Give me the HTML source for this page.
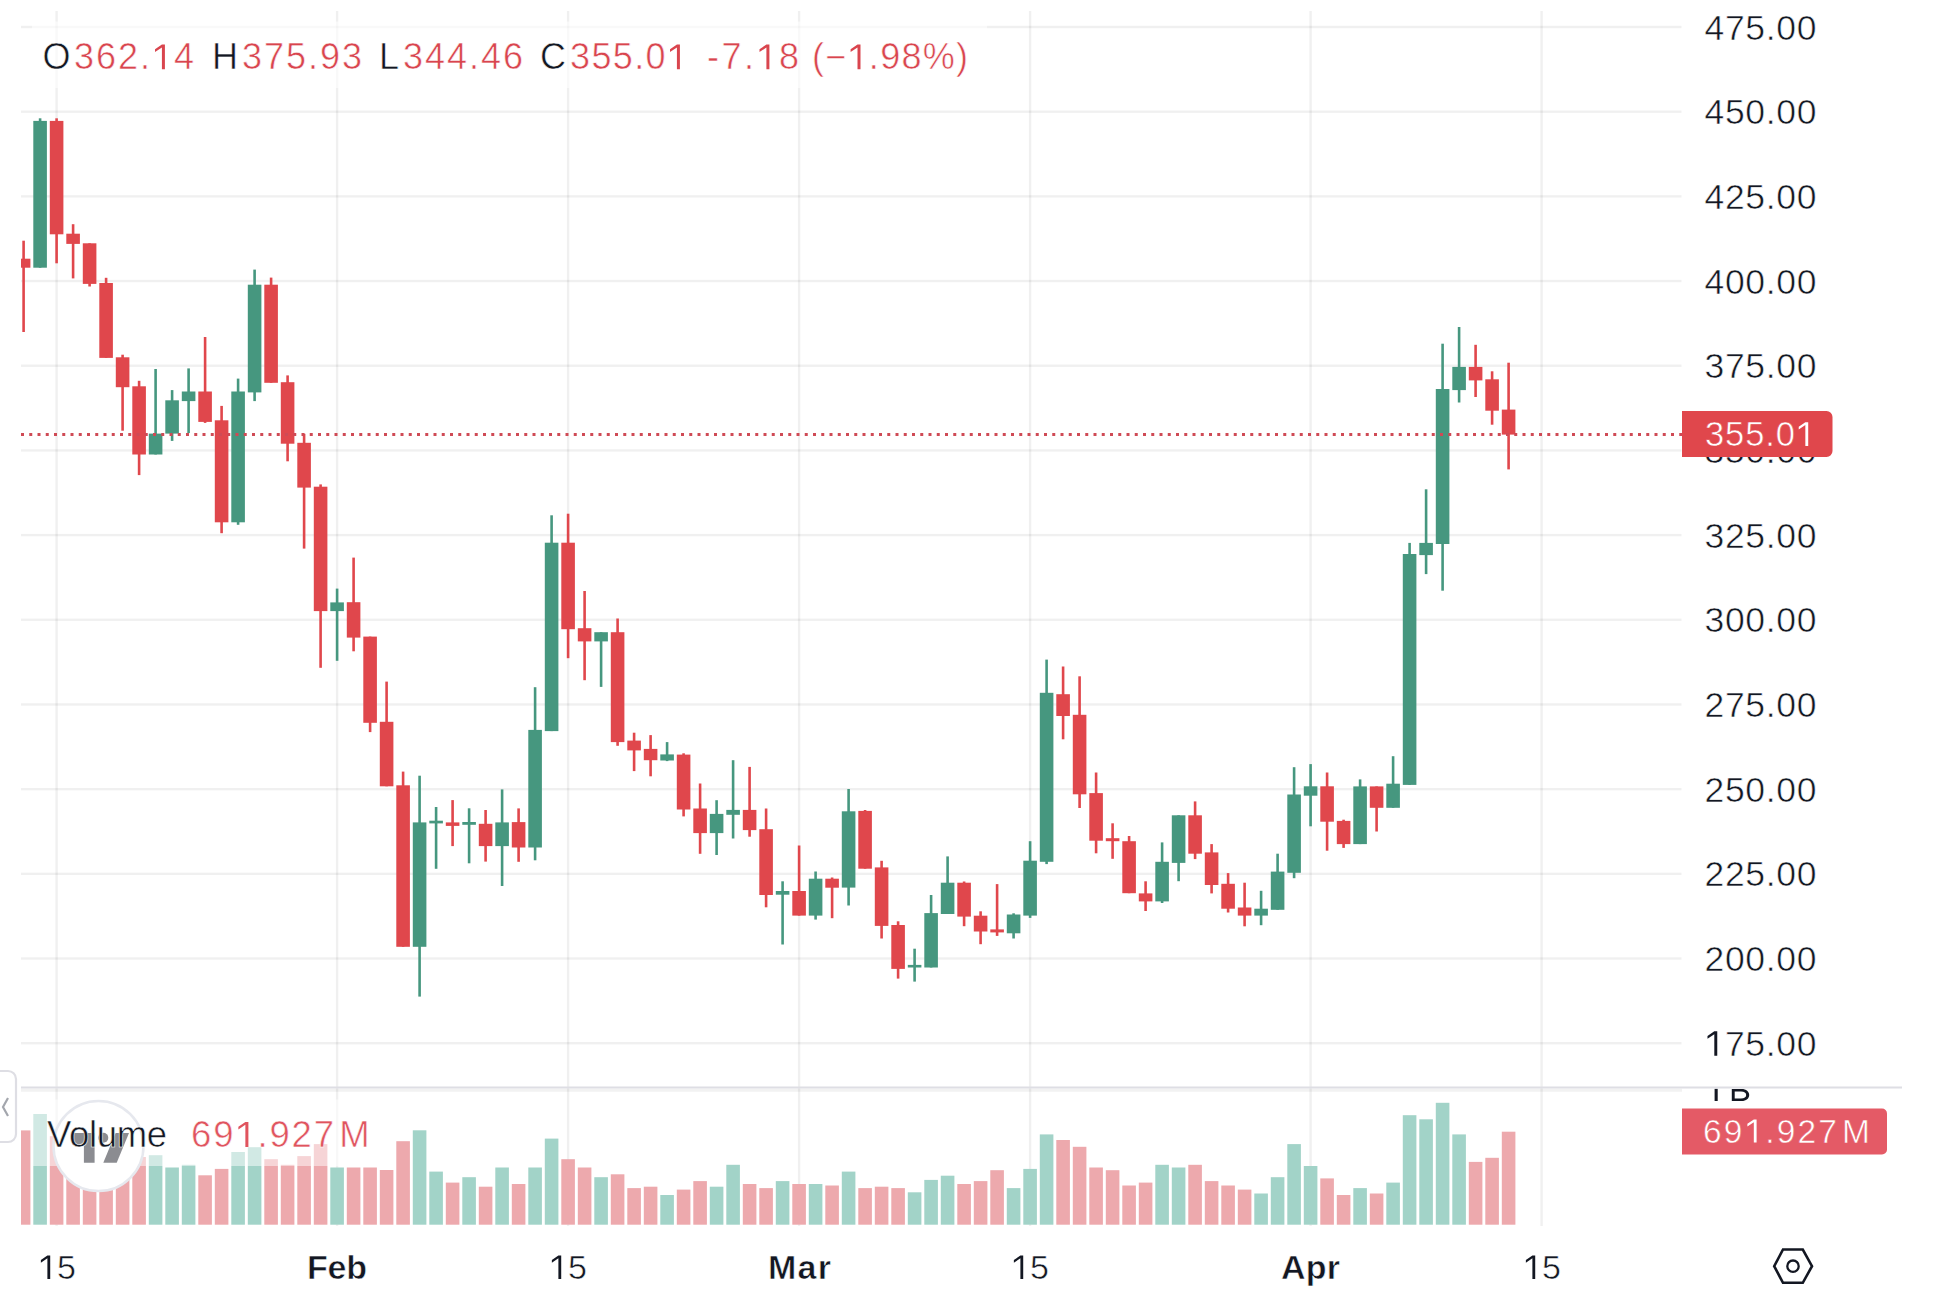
<!DOCTYPE html>
<html><head><meta charset="utf-8">
<style>
html,body{margin:0;padding:0;background:#fff;width:1936px;height:1310px;overflow:hidden}
svg{display:block;font-family:"Liberation Sans",sans-serif}
text{stroke:#ffffff;stroke-width:0.55px;paint-order:normal}
.wt{stroke:#e0474c}
.wv{stroke:#e45a66}
.one{fill-opacity:0;stroke-opacity:0}
</style></head><body>
<svg width="1936" height="1310" viewBox="0 0 1936 1310">
<rect width="1936" height="1310" fill="#ffffff"/>
<rect x="21" y="25.8" width="1660.5" height="2.4" fill="#000000" fill-opacity="0.058"/>
<rect x="21" y="110.48" width="1660.5" height="2.4" fill="#000000" fill-opacity="0.058"/>
<rect x="21" y="195.17" width="1660.5" height="2.4" fill="#000000" fill-opacity="0.058"/>
<rect x="21" y="279.85" width="1660.5" height="2.4" fill="#000000" fill-opacity="0.058"/>
<rect x="21" y="364.53" width="1660.5" height="2.4" fill="#000000" fill-opacity="0.058"/>
<rect x="21" y="449.22" width="1660.5" height="2.4" fill="#000000" fill-opacity="0.058"/>
<rect x="21" y="533.9" width="1660.5" height="2.4" fill="#000000" fill-opacity="0.058"/>
<rect x="21" y="618.58" width="1660.5" height="2.4" fill="#000000" fill-opacity="0.058"/>
<rect x="21" y="703.27" width="1660.5" height="2.4" fill="#000000" fill-opacity="0.058"/>
<rect x="21" y="787.95" width="1660.5" height="2.4" fill="#000000" fill-opacity="0.058"/>
<rect x="21" y="872.63" width="1660.5" height="2.4" fill="#000000" fill-opacity="0.058"/>
<rect x="21" y="957.32" width="1660.5" height="2.4" fill="#000000" fill-opacity="0.058"/>
<rect x="21" y="1042" width="1660.5" height="2.4" fill="#000000" fill-opacity="0.058"/>
<rect x="55.4" y="11" width="2.4" height="1215" fill="#000000" fill-opacity="0.058"/>
<rect x="335.9" y="11" width="2.4" height="1215" fill="#000000" fill-opacity="0.058"/>
<rect x="566.9" y="11" width="2.4" height="1215" fill="#000000" fill-opacity="0.058"/>
<rect x="797.9" y="11" width="2.4" height="1215" fill="#000000" fill-opacity="0.058"/>
<rect x="1028.9" y="11" width="2.4" height="1215" fill="#000000" fill-opacity="0.058"/>
<rect x="1309.4" y="11" width="2.4" height="1215" fill="#000000" fill-opacity="0.058"/>
<rect x="1540.4" y="11" width="2.4" height="1215" fill="#000000" fill-opacity="0.058"/>
<rect x="21" y="1130.4" width="9.4" height="94.3" fill="#eda9ad"/>
<rect x="33.3" y="1114" width="13.6" height="110.7" fill="#a2d3c8"/>
<rect x="49.8" y="1136.2" width="13.6" height="88.5" fill="#eda9ad"/>
<rect x="66.3" y="1172" width="13.6" height="52.7" fill="#eda9ad"/>
<rect x="82.8" y="1176" width="13.6" height="48.7" fill="#eda9ad"/>
<rect x="99.3" y="1170" width="13.6" height="54.7" fill="#eda9ad"/>
<rect x="115.8" y="1168" width="13.6" height="56.7" fill="#eda9ad"/>
<rect x="132.3" y="1157" width="13.6" height="67.7" fill="#eda9ad"/>
<rect x="148.8" y="1155.2" width="13.6" height="69.5" fill="#a2d3c8"/>
<rect x="165.3" y="1167.5" width="13.6" height="57.2" fill="#a2d3c8"/>
<rect x="181.8" y="1164.8" width="13.6" height="59.9" fill="#a2d3c8"/>
<rect x="198.3" y="1175.3" width="13.6" height="49.4" fill="#eda9ad"/>
<rect x="214.8" y="1168.9" width="13.6" height="55.8" fill="#eda9ad"/>
<rect x="231.3" y="1152" width="13.6" height="72.7" fill="#a2d3c8"/>
<rect x="247.8" y="1147.2" width="13.6" height="77.5" fill="#a2d3c8"/>
<rect x="264.3" y="1159.2" width="13.6" height="65.5" fill="#eda9ad"/>
<rect x="280.8" y="1164.8" width="13.6" height="59.9" fill="#eda9ad"/>
<rect x="297.3" y="1156.1" width="13.6" height="68.6" fill="#eda9ad"/>
<rect x="313.8" y="1144.1" width="13.6" height="80.6" fill="#eda9ad"/>
<rect x="330.3" y="1167.5" width="13.6" height="57.2" fill="#a2d3c8"/>
<rect x="346.8" y="1167.5" width="13.6" height="57.2" fill="#eda9ad"/>
<rect x="363.3" y="1167.5" width="13.6" height="57.2" fill="#eda9ad"/>
<rect x="379.8" y="1170" width="13.6" height="54.7" fill="#eda9ad"/>
<rect x="396.3" y="1141.2" width="13.6" height="83.5" fill="#eda9ad"/>
<rect x="412.8" y="1130.3" width="13.6" height="94.4" fill="#a2d3c8"/>
<rect x="429.3" y="1171.6" width="13.6" height="53.1" fill="#a2d3c8"/>
<rect x="445.8" y="1182.6" width="13.6" height="42.1" fill="#eda9ad"/>
<rect x="462.3" y="1177.2" width="13.6" height="47.5" fill="#a2d3c8"/>
<rect x="478.8" y="1186.7" width="13.6" height="38" fill="#eda9ad"/>
<rect x="495.3" y="1167.5" width="13.6" height="57.2" fill="#a2d3c8"/>
<rect x="511.8" y="1184" width="13.6" height="40.7" fill="#eda9ad"/>
<rect x="528.3" y="1167.5" width="13.6" height="57.2" fill="#a2d3c8"/>
<rect x="544.8" y="1138.6" width="13.6" height="86.1" fill="#a2d3c8"/>
<rect x="561.3" y="1159.2" width="13.6" height="65.5" fill="#eda9ad"/>
<rect x="577.8" y="1167.5" width="13.6" height="57.2" fill="#eda9ad"/>
<rect x="594.3" y="1177.2" width="13.6" height="47.5" fill="#a2d3c8"/>
<rect x="610.8" y="1174.3" width="13.6" height="50.4" fill="#eda9ad"/>
<rect x="627.3" y="1188.1" width="13.6" height="36.6" fill="#eda9ad"/>
<rect x="643.8" y="1186.7" width="13.6" height="38" fill="#eda9ad"/>
<rect x="660.3" y="1195" width="13.6" height="29.7" fill="#a2d3c8"/>
<rect x="676.8" y="1189.6" width="13.6" height="35.1" fill="#eda9ad"/>
<rect x="693.3" y="1181.1" width="13.6" height="43.6" fill="#eda9ad"/>
<rect x="709.8" y="1186.7" width="13.6" height="38" fill="#a2d3c8"/>
<rect x="726.3" y="1164.8" width="13.6" height="59.9" fill="#a2d3c8"/>
<rect x="742.8" y="1184" width="13.6" height="40.7" fill="#eda9ad"/>
<rect x="759.3" y="1188.1" width="13.6" height="36.6" fill="#eda9ad"/>
<rect x="775.8" y="1181.1" width="13.6" height="43.6" fill="#a2d3c8"/>
<rect x="792.3" y="1184" width="13.6" height="40.7" fill="#eda9ad"/>
<rect x="808.8" y="1184" width="13.6" height="40.7" fill="#a2d3c8"/>
<rect x="825.3" y="1185.5" width="13.6" height="39.2" fill="#eda9ad"/>
<rect x="841.8" y="1171.6" width="13.6" height="53.1" fill="#a2d3c8"/>
<rect x="858.3" y="1188.1" width="13.6" height="36.6" fill="#eda9ad"/>
<rect x="874.8" y="1186.7" width="13.6" height="38" fill="#eda9ad"/>
<rect x="891.3" y="1188.1" width="13.6" height="36.6" fill="#eda9ad"/>
<rect x="907.8" y="1192.3" width="13.6" height="32.4" fill="#a2d3c8"/>
<rect x="924.3" y="1179.9" width="13.6" height="44.8" fill="#a2d3c8"/>
<rect x="940.8" y="1175.7" width="13.6" height="49" fill="#a2d3c8"/>
<rect x="957.3" y="1184" width="13.6" height="40.7" fill="#eda9ad"/>
<rect x="973.8" y="1181.1" width="13.6" height="43.6" fill="#eda9ad"/>
<rect x="990.3" y="1170.2" width="13.6" height="54.5" fill="#eda9ad"/>
<rect x="1006.8" y="1188.1" width="13.6" height="36.6" fill="#a2d3c8"/>
<rect x="1023.3" y="1168.9" width="13.6" height="55.8" fill="#a2d3c8"/>
<rect x="1039.8" y="1134.4" width="13.6" height="90.3" fill="#a2d3c8"/>
<rect x="1056.3" y="1140" width="13.6" height="84.7" fill="#eda9ad"/>
<rect x="1072.8" y="1146.8" width="13.6" height="77.9" fill="#eda9ad"/>
<rect x="1089.3" y="1167.5" width="13.6" height="57.2" fill="#eda9ad"/>
<rect x="1105.8" y="1170.2" width="13.6" height="54.5" fill="#eda9ad"/>
<rect x="1122.3" y="1185.5" width="13.6" height="39.2" fill="#eda9ad"/>
<rect x="1138.8" y="1182.6" width="13.6" height="42.1" fill="#eda9ad"/>
<rect x="1155.3" y="1164.8" width="13.6" height="59.9" fill="#a2d3c8"/>
<rect x="1171.8" y="1167.5" width="13.6" height="57.2" fill="#a2d3c8"/>
<rect x="1188.3" y="1164.8" width="13.6" height="59.9" fill="#eda9ad"/>
<rect x="1204.8" y="1181.1" width="13.6" height="43.6" fill="#eda9ad"/>
<rect x="1221.3" y="1185.5" width="13.6" height="39.2" fill="#eda9ad"/>
<rect x="1237.8" y="1189.6" width="13.6" height="35.1" fill="#eda9ad"/>
<rect x="1254.3" y="1193.5" width="13.6" height="31.2" fill="#a2d3c8"/>
<rect x="1270.8" y="1177.2" width="13.6" height="47.5" fill="#a2d3c8"/>
<rect x="1287.3" y="1144.1" width="13.6" height="80.6" fill="#a2d3c8"/>
<rect x="1303.8" y="1166" width="13.6" height="58.7" fill="#a2d3c8"/>
<rect x="1320.3" y="1178.4" width="13.6" height="46.3" fill="#eda9ad"/>
<rect x="1336.8" y="1195" width="13.6" height="29.7" fill="#eda9ad"/>
<rect x="1353.3" y="1188.1" width="13.6" height="36.6" fill="#a2d3c8"/>
<rect x="1369.8" y="1193.5" width="13.6" height="31.2" fill="#eda9ad"/>
<rect x="1386.3" y="1182.6" width="13.6" height="42.1" fill="#a2d3c8"/>
<rect x="1402.8" y="1115.2" width="13.6" height="109.5" fill="#a2d3c8"/>
<rect x="1419.3" y="1119.3" width="13.6" height="105.4" fill="#a2d3c8"/>
<rect x="1435.8" y="1102.8" width="13.6" height="121.9" fill="#a2d3c8"/>
<rect x="1452.3" y="1134.4" width="13.6" height="90.3" fill="#a2d3c8"/>
<rect x="1468.8" y="1161.9" width="13.6" height="62.8" fill="#eda9ad"/>
<rect x="1485.3" y="1157.8" width="13.6" height="66.9" fill="#eda9ad"/>
<rect x="1501.8" y="1131.7" width="13.6" height="93" fill="#eda9ad"/>
<rect x="22.3" y="240.7" width="2.6" height="91.3" fill="#e0474c"/>
<rect x="21" y="258.7" width="9.4" height="9" fill="#e0474c"/>
<rect x="38.8" y="118.3" width="2.6" height="149.4" fill="#46977f"/>
<rect x="33.3" y="120.9" width="13.6" height="146.8" fill="#46977f"/>
<rect x="55.3" y="118.3" width="2.6" height="145" fill="#e0474c"/>
<rect x="49.8" y="120.9" width="13.6" height="113.4" fill="#e0474c"/>
<rect x="71.8" y="224.2" width="2.6" height="54.2" fill="#e0474c"/>
<rect x="66.3" y="233.7" width="13.6" height="10.2" fill="#e0474c"/>
<rect x="88.3" y="243.3" width="2.6" height="43.2" fill="#e0474c"/>
<rect x="82.8" y="243.3" width="13.6" height="40.6" fill="#e0474c"/>
<rect x="104.8" y="277.8" width="2.6" height="80.1" fill="#e0474c"/>
<rect x="99.3" y="283" width="13.6" height="74.9" fill="#e0474c"/>
<rect x="121.3" y="354.7" width="2.6" height="76" fill="#e0474c"/>
<rect x="115.8" y="357.3" width="13.6" height="29.9" fill="#e0474c"/>
<rect x="137.8" y="380.8" width="2.6" height="94.3" fill="#e0474c"/>
<rect x="132.3" y="386.3" width="13.6" height="68.2" fill="#e0474c"/>
<rect x="154.3" y="369" width="2.6" height="85.5" fill="#46977f"/>
<rect x="148.8" y="433.6" width="13.6" height="20.9" fill="#46977f"/>
<rect x="170.8" y="390.1" width="2.6" height="50.8" fill="#46977f"/>
<rect x="165.3" y="400.3" width="13.6" height="33.3" fill="#46977f"/>
<rect x="187.3" y="368.4" width="2.6" height="64.7" fill="#46977f"/>
<rect x="181.8" y="391.5" width="13.6" height="9.6" fill="#46977f"/>
<rect x="203.8" y="337" width="2.6" height="85.9" fill="#e0474c"/>
<rect x="198.3" y="391.5" width="13.6" height="30.4" fill="#e0474c"/>
<rect x="220.3" y="405.9" width="2.6" height="127.3" fill="#e0474c"/>
<rect x="214.8" y="420.3" width="13.6" height="102" fill="#e0474c"/>
<rect x="236.8" y="378.6" width="2.6" height="146.2" fill="#46977f"/>
<rect x="231.3" y="391.5" width="13.6" height="130.8" fill="#46977f"/>
<rect x="253.3" y="269.6" width="2.6" height="131.5" fill="#46977f"/>
<rect x="247.8" y="284.7" width="13.6" height="107.7" fill="#46977f"/>
<rect x="269.8" y="277.6" width="2.6" height="105.2" fill="#e0474c"/>
<rect x="264.3" y="284.7" width="13.6" height="98.1" fill="#e0474c"/>
<rect x="286.3" y="375.4" width="2.6" height="85.9" fill="#e0474c"/>
<rect x="280.8" y="382.2" width="13.6" height="61.5" fill="#e0474c"/>
<rect x="302.8" y="433.8" width="2.6" height="114.8" fill="#e0474c"/>
<rect x="297.3" y="442.8" width="13.6" height="44.8" fill="#e0474c"/>
<rect x="319.3" y="484.4" width="2.6" height="183.4" fill="#e0474c"/>
<rect x="313.8" y="486.7" width="13.6" height="124.4" fill="#e0474c"/>
<rect x="335.8" y="588.6" width="2.6" height="72.2" fill="#46977f"/>
<rect x="330.3" y="602.4" width="13.6" height="8.7" fill="#46977f"/>
<rect x="352.3" y="557.6" width="2.6" height="93.7" fill="#e0474c"/>
<rect x="346.8" y="602.2" width="13.6" height="35.4" fill="#e0474c"/>
<rect x="368.8" y="636.6" width="2.6" height="95.5" fill="#e0474c"/>
<rect x="363.3" y="636.6" width="13.6" height="86.2" fill="#e0474c"/>
<rect x="385.3" y="681.6" width="2.6" height="104.7" fill="#e0474c"/>
<rect x="379.8" y="721.8" width="13.6" height="64.5" fill="#e0474c"/>
<rect x="401.8" y="771.6" width="2.6" height="175.2" fill="#e0474c"/>
<rect x="396.3" y="785.3" width="13.6" height="161.5" fill="#e0474c"/>
<rect x="418.3" y="775.7" width="2.6" height="220.9" fill="#46977f"/>
<rect x="412.8" y="822.4" width="13.6" height="124.4" fill="#46977f"/>
<rect x="434.8" y="807" width="2.6" height="61.8" fill="#46977f"/>
<rect x="429.3" y="820.7" width="13.6" height="2.7" fill="#46977f"/>
<rect x="451.3" y="800.1" width="2.6" height="46" fill="#e0474c"/>
<rect x="445.8" y="822.4" width="13.6" height="3.5" fill="#e0474c"/>
<rect x="467.8" y="808.3" width="2.6" height="55" fill="#46977f"/>
<rect x="462.3" y="822" width="13.6" height="2.8" fill="#46977f"/>
<rect x="484.3" y="810" width="2.6" height="51.6" fill="#e0474c"/>
<rect x="478.8" y="823.8" width="13.6" height="22.3" fill="#e0474c"/>
<rect x="500.8" y="789.4" width="2.6" height="96.6" fill="#46977f"/>
<rect x="495.3" y="822.4" width="13.6" height="23.7" fill="#46977f"/>
<rect x="517.3" y="808.4" width="2.6" height="53.4" fill="#e0474c"/>
<rect x="511.8" y="822.1" width="13.6" height="25.4" fill="#e0474c"/>
<rect x="533.8" y="687.2" width="2.6" height="173.1" fill="#46977f"/>
<rect x="528.3" y="729.9" width="13.6" height="117.6" fill="#46977f"/>
<rect x="550.3" y="515.3" width="2.6" height="215.8" fill="#46977f"/>
<rect x="544.8" y="542.7" width="13.6" height="188.4" fill="#46977f"/>
<rect x="566.8" y="513.7" width="2.6" height="144.5" fill="#e0474c"/>
<rect x="561.3" y="542.7" width="13.6" height="86.5" fill="#e0474c"/>
<rect x="583.3" y="591" width="2.6" height="89.2" fill="#e0474c"/>
<rect x="577.8" y="628.2" width="13.6" height="13.2" fill="#e0474c"/>
<rect x="599.8" y="632.2" width="2.6" height="54.7" fill="#46977f"/>
<rect x="594.3" y="632.2" width="13.6" height="9.2" fill="#46977f"/>
<rect x="616.3" y="618.5" width="2.6" height="127.3" fill="#e0474c"/>
<rect x="610.8" y="632.2" width="13.6" height="109.9" fill="#e0474c"/>
<rect x="632.8" y="732.7" width="2.6" height="38.4" fill="#e0474c"/>
<rect x="627.3" y="740.6" width="13.6" height="9.8" fill="#e0474c"/>
<rect x="649.3" y="735.1" width="2.6" height="41.2" fill="#e0474c"/>
<rect x="643.8" y="748.9" width="13.6" height="11.3" fill="#e0474c"/>
<rect x="665.8" y="742.1" width="2.6" height="19" fill="#46977f"/>
<rect x="660.3" y="754.4" width="13.6" height="6.1" fill="#46977f"/>
<rect x="682.3" y="753.3" width="2.6" height="63.1" fill="#e0474c"/>
<rect x="676.8" y="754.6" width="13.6" height="54.9" fill="#e0474c"/>
<rect x="698.8" y="783.5" width="2.6" height="70.3" fill="#e0474c"/>
<rect x="693.3" y="808.5" width="13.6" height="24.6" fill="#e0474c"/>
<rect x="715.3" y="800.2" width="2.6" height="54.8" fill="#46977f"/>
<rect x="709.8" y="813.9" width="13.6" height="19.2" fill="#46977f"/>
<rect x="731.8" y="760.2" width="2.6" height="78.3" fill="#46977f"/>
<rect x="726.3" y="809.9" width="13.6" height="4.9" fill="#46977f"/>
<rect x="748.3" y="766.9" width="2.6" height="69.8" fill="#e0474c"/>
<rect x="742.8" y="809.9" width="13.6" height="20.2" fill="#e0474c"/>
<rect x="764.8" y="808.5" width="2.6" height="98.8" fill="#e0474c"/>
<rect x="759.3" y="829.2" width="13.6" height="65.8" fill="#e0474c"/>
<rect x="781.3" y="881.3" width="2.6" height="63.2" fill="#46977f"/>
<rect x="775.8" y="891" width="13.6" height="3.7" fill="#46977f"/>
<rect x="797.8" y="845.5" width="2.6" height="70.1" fill="#e0474c"/>
<rect x="792.3" y="891" width="13.6" height="24.6" fill="#e0474c"/>
<rect x="814.3" y="871.5" width="2.6" height="48.1" fill="#46977f"/>
<rect x="808.8" y="878.7" width="13.6" height="36.9" fill="#46977f"/>
<rect x="830.8" y="877.5" width="2.6" height="40.7" fill="#e0474c"/>
<rect x="825.3" y="878.7" width="13.6" height="9" fill="#e0474c"/>
<rect x="847.3" y="789" width="2.6" height="116.5" fill="#46977f"/>
<rect x="841.8" y="811.3" width="13.6" height="76.3" fill="#46977f"/>
<rect x="863.8" y="810" width="2.6" height="58.7" fill="#e0474c"/>
<rect x="858.3" y="810.9" width="13.6" height="57.8" fill="#e0474c"/>
<rect x="880.3" y="860.8" width="2.6" height="77.7" fill="#e0474c"/>
<rect x="874.8" y="867.4" width="13.6" height="58.5" fill="#e0474c"/>
<rect x="896.8" y="921.3" width="2.6" height="57.3" fill="#e0474c"/>
<rect x="891.3" y="925" width="13.6" height="43.9" fill="#e0474c"/>
<rect x="913.3" y="948.7" width="2.6" height="32.9" fill="#46977f"/>
<rect x="907.8" y="964.9" width="13.6" height="2.6" fill="#46977f"/>
<rect x="929.8" y="895" width="2.6" height="72.5" fill="#46977f"/>
<rect x="924.3" y="913.1" width="13.6" height="54.4" fill="#46977f"/>
<rect x="946.3" y="856.4" width="2.6" height="57.6" fill="#46977f"/>
<rect x="940.8" y="882.7" width="13.6" height="31.3" fill="#46977f"/>
<rect x="962.8" y="881.5" width="2.6" height="44.7" fill="#e0474c"/>
<rect x="957.3" y="882.7" width="13.6" height="33.9" fill="#e0474c"/>
<rect x="979.3" y="911.3" width="2.6" height="32.9" fill="#e0474c"/>
<rect x="973.8" y="915.7" width="13.6" height="15.8" fill="#e0474c"/>
<rect x="995.8" y="884.1" width="2.6" height="51.8" fill="#e0474c"/>
<rect x="990.3" y="929.4" width="13.6" height="3" fill="#e0474c"/>
<rect x="1012.3" y="913.3" width="2.6" height="25.2" fill="#46977f"/>
<rect x="1006.8" y="914.5" width="13.6" height="18.8" fill="#46977f"/>
<rect x="1028.8" y="841.2" width="2.6" height="76.7" fill="#46977f"/>
<rect x="1023.3" y="860.7" width="13.6" height="54.9" fill="#46977f"/>
<rect x="1045.3" y="659.6" width="2.6" height="204.5" fill="#46977f"/>
<rect x="1039.8" y="692.8" width="13.6" height="169" fill="#46977f"/>
<rect x="1061.8" y="666.5" width="2.6" height="72.8" fill="#e0474c"/>
<rect x="1056.3" y="694.2" width="13.6" height="21.8" fill="#e0474c"/>
<rect x="1078.3" y="676.3" width="2.6" height="131.7" fill="#e0474c"/>
<rect x="1072.8" y="714.8" width="13.6" height="79.5" fill="#e0474c"/>
<rect x="1094.8" y="772.5" width="2.6" height="80.8" fill="#e0474c"/>
<rect x="1089.3" y="793.1" width="13.6" height="47.6" fill="#e0474c"/>
<rect x="1111.3" y="823.3" width="2.6" height="35.5" fill="#e0474c"/>
<rect x="1105.8" y="838.2" width="13.6" height="3" fill="#e0474c"/>
<rect x="1127.8" y="836" width="2.6" height="57.2" fill="#e0474c"/>
<rect x="1122.3" y="841.2" width="13.6" height="52" fill="#e0474c"/>
<rect x="1144.3" y="881.3" width="2.6" height="29.7" fill="#e0474c"/>
<rect x="1138.8" y="893.4" width="13.6" height="8" fill="#e0474c"/>
<rect x="1160.8" y="842.4" width="2.6" height="60.6" fill="#46977f"/>
<rect x="1155.3" y="861.8" width="13.6" height="39.6" fill="#46977f"/>
<rect x="1177.3" y="815.3" width="2.6" height="65.9" fill="#46977f"/>
<rect x="1171.8" y="815.3" width="13.6" height="47.6" fill="#46977f"/>
<rect x="1193.8" y="801.4" width="2.6" height="57.7" fill="#e0474c"/>
<rect x="1188.3" y="815.3" width="13.6" height="38.4" fill="#e0474c"/>
<rect x="1210.3" y="844.1" width="2.6" height="49.3" fill="#e0474c"/>
<rect x="1204.8" y="852.4" width="13.6" height="32.6" fill="#e0474c"/>
<rect x="1226.8" y="873.1" width="2.6" height="39.4" fill="#e0474c"/>
<rect x="1221.3" y="883.8" width="13.6" height="24.9" fill="#e0474c"/>
<rect x="1243.3" y="882.7" width="2.6" height="43.6" fill="#e0474c"/>
<rect x="1237.8" y="907.5" width="13.6" height="8.1" fill="#e0474c"/>
<rect x="1259.8" y="890.8" width="2.6" height="34.4" fill="#46977f"/>
<rect x="1254.3" y="908.7" width="13.6" height="6.9" fill="#46977f"/>
<rect x="1276.3" y="853.7" width="2.6" height="56.1" fill="#46977f"/>
<rect x="1270.8" y="871.6" width="13.6" height="38.2" fill="#46977f"/>
<rect x="1292.8" y="767.2" width="2.6" height="111" fill="#46977f"/>
<rect x="1287.3" y="794.5" width="13.6" height="78.3" fill="#46977f"/>
<rect x="1309.3" y="764.1" width="2.6" height="62.2" fill="#46977f"/>
<rect x="1303.8" y="786.3" width="13.6" height="9.4" fill="#46977f"/>
<rect x="1325.8" y="772.5" width="2.6" height="78.2" fill="#e0474c"/>
<rect x="1320.3" y="786.3" width="13.6" height="35.4" fill="#e0474c"/>
<rect x="1342.3" y="819.7" width="2.6" height="28.2" fill="#e0474c"/>
<rect x="1336.8" y="820.9" width="13.6" height="23.2" fill="#e0474c"/>
<rect x="1358.8" y="779.4" width="2.6" height="64.7" fill="#46977f"/>
<rect x="1353.3" y="786.4" width="13.6" height="57.7" fill="#46977f"/>
<rect x="1375.3" y="786.4" width="2.6" height="45.1" fill="#e0474c"/>
<rect x="1369.8" y="786.4" width="13.6" height="21.4" fill="#e0474c"/>
<rect x="1391.8" y="756.2" width="2.6" height="51.6" fill="#46977f"/>
<rect x="1386.3" y="783.7" width="13.6" height="24.1" fill="#46977f"/>
<rect x="1408.3" y="542.9" width="2.6" height="242" fill="#46977f"/>
<rect x="1402.8" y="554" width="13.6" height="230.9" fill="#46977f"/>
<rect x="1424.8" y="489.3" width="2.6" height="84.8" fill="#46977f"/>
<rect x="1419.3" y="542.9" width="13.6" height="12.2" fill="#46977f"/>
<rect x="1441.3" y="343.7" width="2.6" height="247" fill="#46977f"/>
<rect x="1435.8" y="389" width="13.6" height="155" fill="#46977f"/>
<rect x="1457.8" y="327" width="2.6" height="75.5" fill="#46977f"/>
<rect x="1452.3" y="366.9" width="13.6" height="23.2" fill="#46977f"/>
<rect x="1474.3" y="344.8" width="2.6" height="52.2" fill="#e0474c"/>
<rect x="1468.8" y="366.9" width="13.6" height="13.5" fill="#e0474c"/>
<rect x="1490.8" y="371.3" width="2.6" height="53.4" fill="#e0474c"/>
<rect x="1485.3" y="379.3" width="13.6" height="31.4" fill="#e0474c"/>
<rect x="1507.3" y="362.7" width="2.6" height="106.7" fill="#e0474c"/>
<rect x="1501.8" y="409.6" width="13.6" height="25" fill="#e0474c"/>
<!-- price line -->
<line x1="21" y1="434.5" x2="1682" y2="434.5" stroke="#cf4a55" stroke-width="3" stroke-dasharray="3 5.25"/>
<!-- separator -->
<rect x="21" y="1088.6" width="1661" height="3.2" fill="#000" fill-opacity="0.05"/>
<rect x="21" y="1086.5" width="1881" height="2" fill="#dedee4"/>
<!-- legend overlays -->
<rect x="32" y="21.5" width="955" height="66.5" fill="#ffffff" fill-opacity="0.6"/>
<rect x="32" y="1099.5" width="345" height="66.5" fill="#ffffff" fill-opacity="0.5"/>
<!-- price axis labels -->
<g fill="#131722" font-size="35.5">
<text x="1704.5" y="39.5" textLength="112" lengthAdjust="spacing">475.00</text>
<text x="1704.5" y="124.18" textLength="112" lengthAdjust="spacing">450.00</text>
<text x="1704.5" y="208.87" textLength="112" lengthAdjust="spacing">425.00</text>
<text x="1704.5" y="293.55" textLength="112" lengthAdjust="spacing">400.00</text>
<text x="1704.5" y="378.23" textLength="112" lengthAdjust="spacing">375.00</text>
<text x="1704.5" y="462.92" textLength="112" lengthAdjust="spacing">350.00</text>
<text x="1704.5" y="547.6" textLength="112" lengthAdjust="spacing">325.00</text>
<text x="1704.5" y="632.28" textLength="112" lengthAdjust="spacing">300.00</text>
<text x="1704.5" y="716.97" textLength="112" lengthAdjust="spacing">275.00</text>
<text x="1704.5" y="801.65" textLength="112" lengthAdjust="spacing">250.00</text>
<text x="1704.5" y="886.33" textLength="112" lengthAdjust="spacing">225.00</text>
<text x="1704.5" y="971.02" textLength="112" lengthAdjust="spacing">200.00</text>
<text x="1704.5" y="1055.7" textLength="112" lengthAdjust="spacing"><tspan class="one">1</tspan>75.00</text>
</g>
<!-- clipped 1B -->
<g fill="#131722"><rect x="1714.6" y="1088.9" width="3.1" height="12.1"/><path fill-rule="evenodd" d="M1731.8 1088.9H1741.5C1746.3 1088.9 1749.2 1091.6 1749.2 1095C1749.2 1098.4 1746.3 1101 1741.5 1101H1731.8ZM1734.7 1091.5H1741C1744.4 1091.5 1746.2 1093 1746.2 1095C1746.2 1097 1744.4 1098.5 1741 1098.5H1734.7Z"/></g>
<!-- price label box -->
<path d="M1682 411 H1826.5 a6 6 0 0 1 6 6 V451 a6 6 0 0 1 -6 6 H1682 Z" fill="#e0474c"/>
<text class="wt" x="1705" y="446" font-size="34.5" fill="#ffffff" textLength="110" lengthAdjust="spacing">355.0<tspan class="one">1</tspan></text>
<!-- volume label box -->
<path d="M1682 1108.5 H1882 a5 5 0 0 1 5 5 V1149.5 a5 5 0 0 1 -5 5 H1682 Z" fill="#e45a66"/>
<text class="wv" x="1703" y="1142.5" font-size="33.5" fill="#ffffff" textLength="134" lengthAdjust="spacing">69<tspan class="one">1</tspan>.927</text><text class="wv" x="1842" y="1142.5" font-size="33.5" fill="#ffffff">M</text>
<!-- legend -->
<g font-size="36">
<text x="42.5" y="69.3" fill="#131722">O</text>
<text x="74" y="69.3" fill="#d9454e" textLength="120" lengthAdjust="spacing">362.<tspan class="one">1</tspan>4</text>
<text x="212" y="69.3" fill="#131722">H</text>
<text x="242" y="69.3" fill="#d9454e" textLength="120" lengthAdjust="spacing">375.93</text>
<text x="379" y="69.3" fill="#131722">L</text>
<text x="403" y="69.3" fill="#d9454e" textLength="120" lengthAdjust="spacing">344.46</text>
<text x="540" y="69.3" fill="#131722">C</text>
<text x="570" y="69.3" fill="#d9454e" textLength="117" lengthAdjust="spacing">355.0<tspan class="one">1</tspan></text>
<text x="707" y="69.3" fill="#d9454e" textLength="92" lengthAdjust="spacing">-7.<tspan class="one">1</tspan>8</text>
<text x="812" y="69.3" fill="#d9454e" textLength="156" lengthAdjust="spacing">(−<tspan class="one">1</tspan>.98%)</text>
</g>
<!-- TV logo -->
<circle cx="98.5" cy="1146" r="45" fill="#ffffff" stroke="#e6e8ee" stroke-width="2.5"/>
<g fill="#8b8c91">
<path d="M72.5 1133H94.6V1162.8H83.9V1144.6H72.5Z"/><circle cx="103.3" cy="1137.8" r="5"/><path d="M103.3 1162.8L115.6 1133H129L116.7 1162.8Z"/>
</g>
<!-- volume legend -->
<text x="47" y="1147" font-size="36.5" fill="#131722" textLength="120" lengthAdjust="spacing">Volume</text>
<text x="191" y="1147" font-size="36.5" fill="#e0545e" textLength="143" lengthAdjust="spacing">69<tspan class="one">1</tspan>.927</text><text x="339.3" y="1147" font-size="36.5" fill="#e0545e">M</text>
<!-- left handle -->
<path d="M-10 1071 H8 a8 8 0 0 1 8 8 V1134 a8 8 0 0 1 -8 8 H-10 Z" fill="#ffffff" stroke="#dedee4" stroke-width="2.2"/>
<path d="M8 1098 L3 1107 L8 1116" fill="none" stroke="#a3a6ad" stroke-width="2.2"/>
<!-- time axis -->
<g font-size="34" fill="#131722">
<text x="38" y="1279" textLength="38" lengthAdjust="spacing"><tspan class="one">1</tspan>5</text>
<text x="307" y="1279" font-weight="bold" textLength="60" lengthAdjust="spacing">Feb</text>
<text x="549" y="1279" textLength="38" lengthAdjust="spacing"><tspan class="one">1</tspan>5</text>
<text x="768" y="1279" font-weight="bold" textLength="63" lengthAdjust="spacing">Mar</text>
<text x="1011" y="1279" textLength="38" lengthAdjust="spacing"><tspan class="one">1</tspan>5</text>
<text x="1281" y="1279" font-weight="bold" textLength="59" lengthAdjust="spacing">Apr</text>
<text x="1523" y="1279" textLength="38" lengthAdjust="spacing"><tspan class="one">1</tspan>5</text>
</g>
<!-- settings icon -->
<path d="M1783 1249.5 H1802.8 L1812 1266.2 L1802.8 1282.8 H1783 L1774.2 1266.2 Z" fill="none" stroke="#131722" stroke-width="2.6" stroke-linejoin="miter"/>
<circle cx="1793" cy="1266.2" r="5.7" fill="none" stroke="#131722" stroke-width="2.3"/>
<g><path transform="translate(1704.50 1055.70) scale(0.01733 -0.01733)" d="M736 0H566V1244L173 977V1142L566 1409H736Z" fill="rgb(19, 23, 34)"/>
<path transform="translate(1795.81 446.00) scale(0.01685 -0.01685)" d="M736 0H566V1244L173 977V1142L566 1409H736Z" fill="rgb(255, 255, 255)"/>
<path transform="translate(1744.56 1142.50) scale(0.01636 -0.01636)" d="M736 0H566V1244L173 977V1142L566 1409H736Z" fill="rgb(255, 255, 255)"/>
<path transform="translate(151.97 69.30) scale(0.01758 -0.01758)" d="M736 0H566V1244L173 977V1142L566 1409H736Z" fill="rgb(217, 69, 78)"/>
<path transform="translate(666.97 69.30) scale(0.01758 -0.01758)" d="M736 0H566V1244L173 977V1142L566 1409H736Z" fill="rgb(217, 69, 78)"/>
<path transform="translate(756.46 69.30) scale(0.01758 -0.01758)" d="M736 0H566V1244L173 977V1142L566 1409H736Z" fill="rgb(217, 69, 78)"/>
<path transform="translate(847.56 69.30) scale(0.01758 -0.01758)" d="M736 0H566V1244L173 977V1142L566 1409H736Z" fill="rgb(217, 69, 78)"/>
<path transform="translate(235.28 1147.00) scale(0.01782 -0.01782)" d="M736 0H566V1244L173 977V1142L566 1409H736Z" fill="rgb(224, 84, 94)"/>
<path transform="translate(38.00 1279.00) scale(0.01660 -0.01660)" d="M736 0H566V1244L173 977V1142L566 1409H736Z" fill="rgb(19, 23, 34)"/>
<path transform="translate(549.00 1279.00) scale(0.01660 -0.01660)" d="M736 0H566V1244L173 977V1142L566 1409H736Z" fill="rgb(19, 23, 34)"/>
<path transform="translate(1011.00 1279.00) scale(0.01660 -0.01660)" d="M736 0H566V1244L173 977V1142L566 1409H736Z" fill="rgb(19, 23, 34)"/>
<path transform="translate(1523.00 1279.00) scale(0.01660 -0.01660)" d="M736 0H566V1244L173 977V1142L566 1409H736Z" fill="rgb(19, 23, 34)"/></g>
</svg>
</body></html>
